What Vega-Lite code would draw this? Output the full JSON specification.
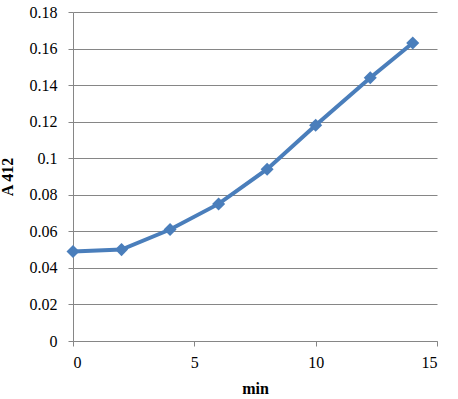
{
  "$schema": "https://vega.github.io/schema/vega-lite/v6.json",
  "width": 364,
  "height": 329,
  "autosize": {"type": "none"},
  "padding": {"left": 73, "top": 12, "right": 21, "bottom": 58},
  "background": "white",
  "config": {
    "view": {"stroke": null},
    "font": "Liberation Serif",
    "axis": {"labelFont": "Liberation Serif", "titleFont": "Liberation Serif", "labelColor": "black", "titleColor": "black", "labelFontSize": 16, "titleFontSize": 16, "titleFontWeight": "bold", "domainColor": "#868686", "tickColor": "#868686", "gridColor": "#868686", "gridOpacity": 1, "tickSize": 5}
  },
  "data": {"values": [
    {"min": 0, "A": 0.049},
    {"min": 2, "A": 0.050},
    {"min": 4, "A": 0.061},
    {"min": 6, "A": 0.075},
    {"min": 8, "A": 0.094},
    {"min": 10, "A": 0.118},
    {"min": 12.25, "A": 0.144},
    {"min": 14, "A": 0.163}
  ]},
  "mark": {"type": "line", "color": "#4a7ebb", "strokeWidth": 4, "point": {"shape": "diamond", "size": 170, "filled": true, "color": "#4a7ebb", "opacity": 1}},
  "encoding": {
    "x": {"field": "min", "type": "quantitative", "scale": {"domain": [0, 15], "nice": false}, "axis": {"values": [0, 5, 10, 15], "grid": false, "title": "min", "titlePadding": 10, "labelPadding": 8, "format": "d"}},
    "y": {"field": "A", "type": "quantitative", "scale": {"domain": [0, 0.18], "nice": false}, "axis": {"values": [0, 0.02, 0.04, 0.06, 0.08, 0.1, 0.12, 0.14, 0.16, 0.18], "grid": true, "title": "A 412", "titlePadding": 14, "labelPadding": 11, "format": "~g"}}
  }
}
